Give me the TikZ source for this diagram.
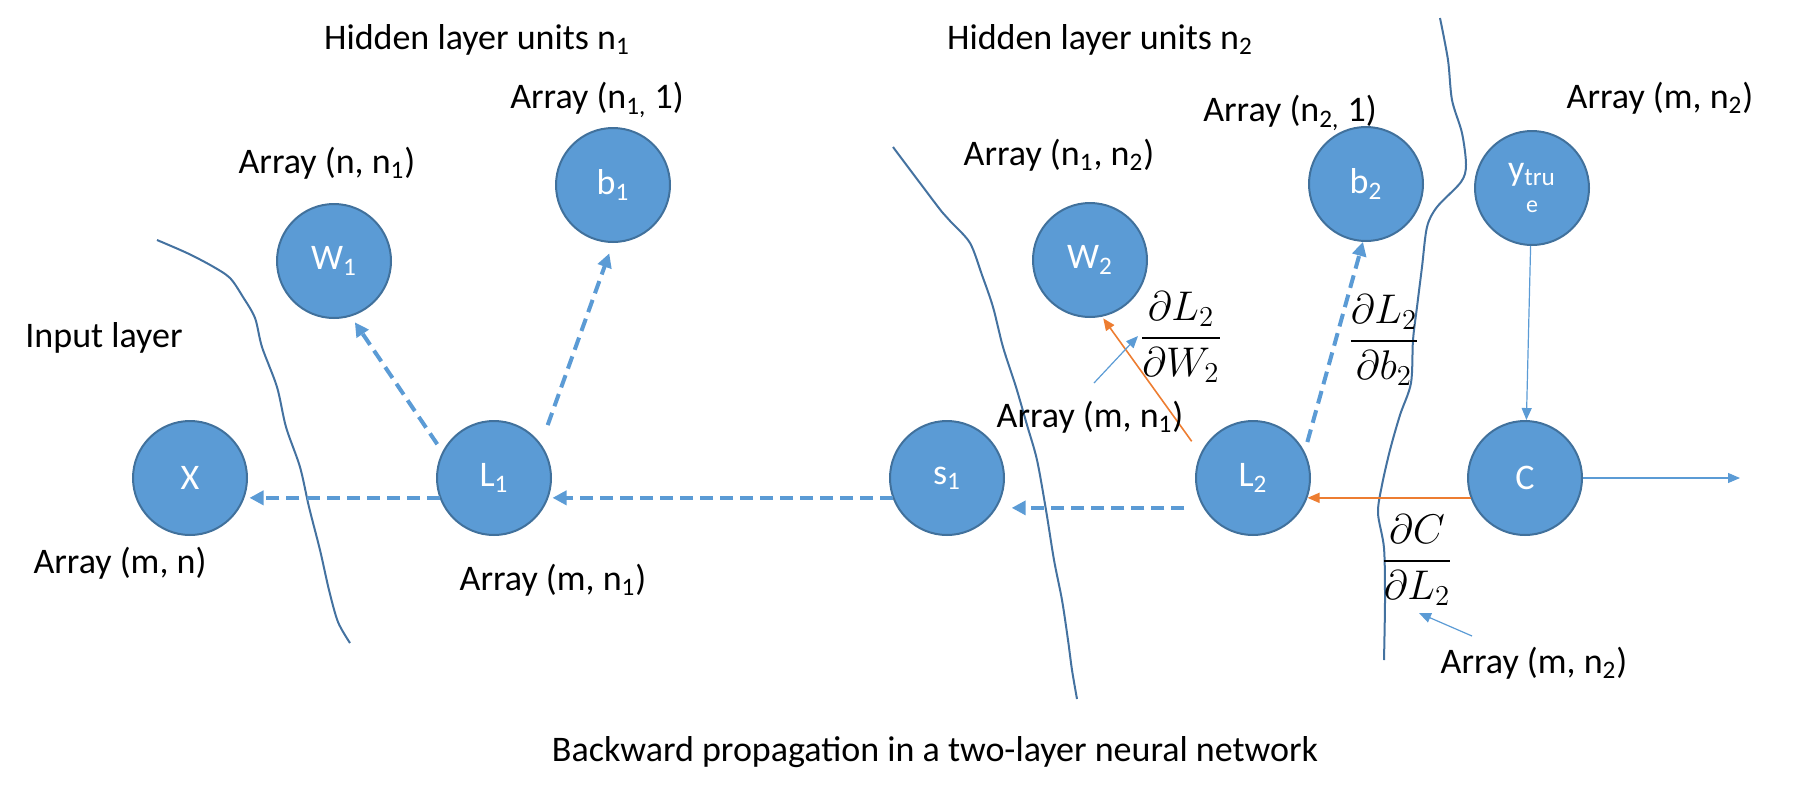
\documentclass[tikz,border=0pt]{standalone}
\usepackage{amsmath}
\usepackage{fontspec}
\setmainfont{Carlito}
\usetikzlibrary{arrows.meta}
\definecolor{unitblue}{RGB}{91,155,213}
\definecolor{unitedge}{RGB}{65,113,156}
\definecolor{gradorange}{RGB}{237,125,49}
\definecolor{cutline}{RGB}{68,114,160}
\tikzset{
  unit/.style={circle, fill=unitblue, draw=unitedge, line width=1pt,
    minimum size=57pt, inner sep=0pt, text=white,
    font=\fontsize{18}{20}\selectfont},
  lbl/.style={inner sep=0pt, font=\fontsize{18}{21}\selectfont},
  frac/.style={inner sep=0pt, font=\fontsize{20}{24}\selectfont},
  backprop/.style={draw=unitblue, line width=2pt,
    dash pattern=on 6.5pt off 3.5pt, -{Triangle[length=7pt,width=7pt]}},
  grad/.style={draw=gradorange, line width=0.8pt,
    -{Triangle[length=6pt,width=5pt]}},
  pointer/.style={draw=unitblue, line width=0.6pt,
    -{Triangle[length=6pt,width=5pt]}},
  cut/.style={draw=cutline, line width=1pt},
}

\begin{document}
\begin{tikzpicture}[x=0.5pt,y=-0.5pt]
\useasboundingbox (0,0) rectangle (1801,794);

% Units
\node[unit] (X)  at (190,478)  {X};
\node[unit] (L1) at (494,478)  {L\textsubscript{1}};
\node[unit] (W1) at (334,261)  {W\textsubscript{1}};
\node[unit] (b1) at (613,185)  {b\textsubscript{1}};
\node[unit] (s1) at (947,478)  {s\textsubscript{1}};
\node[unit] (W2) at (1090,260) {W\textsubscript{2}};
\node[unit] (L2) at (1253,478) {L\textsubscript{2}};
\node[unit] (b2) at (1366,184) {b\textsubscript{2}};
\node[unit, align=center] (yt) at (1532,188)
  {y\textsubscript{tru}\\[-4pt]{\fontsize{12}{13}\selectfont e}};
\node[unit] (C)  at (1525,478) {C};

% Layer boundaries
\draw[cut] plot[smooth, tension=0.5] coordinates {(157,240) (187,253) (212,266)
  (230,278) (243,297) (255,318) (262,347) (277,387) (286,427) (300,467)
  (309,507) (320,550) (329,590) (338,622) (350,643)};
\draw[cut] plot[smooth, tension=0.5] coordinates {(893,147) (920,183) (942,212)
  (951,222) (970,243) (982,275) (993,307) (1003,347) (1016,387) (1027,425)
  (1037,460) (1046,510) (1054,560) (1062,600) (1068,640) (1072,670) (1077,699)};
\draw[cut] plot[smooth, tension=0.5] coordinates {(1440,18) (1448,60) (1452,100)
  (1462,133) (1466,165) (1461,182) (1437,207) (1427,227) (1422,267) (1417,307)
  (1413,340) (1411,383) (1400,415) (1390,450) (1382,485) (1378,513) (1384,548)
  (1385,600) (1384,660)};

% Backward flow
\draw[backprop, shorten >=2.5pt] (L1.200) -- (X.-20);
\draw[backprop, shorten >=2pt] (s1.200) -- (L1.-20);
\draw[backprop, shorten <=9.5pt, shorten >=7.5pt] (L2.211) -- (s1.-31);
\draw[backprop, shorten <=4.5pt, shorten >=3.5pt] (L1.153) -- (W1.287);
\draw[backprop, shorten <=10pt, shorten >=5.5pt] (L1.36) -- (b1.270);
\draw[backprop, shorten <=5pt] (L2.27) -- (b2.267);
\draw[grad, shorten <=7.5pt, shorten >=1pt] (L2.155) -- (W2.282);
\draw[grad] (C.200) -- (L2.-20);
\draw[pointer] (yt) -- (C);
\coordinate (out) at (1740,478);
\draw[pointer] (C) -- (out);

% Gradients
\node[frac] (dW2) at (1181,337) {$\dfrac{\partial L_2}{\partial W_2}$};
\node[frac] (db2) at (1384,340) {$\dfrac{\partial L_2}{\partial b_2}$};
\node[frac] (dL2) at (1417,560) {$\dfrac{\partial C}{\partial L_2}$};

% Shapes
\node[lbl] (hid1) at (477,40)  {Hidden layer units n\textsubscript{1}};
\node[lbl] (hid2) at (1100,40) {Hidden layer units n\textsubscript{2}};
\node[lbl] (inp)  at (104,338) {Input layer};
\node[lbl] (aX)   at (120,563) {Array (m, n)};
\node[lbl] (aW1)  at (327,163) {Array (n, n\textsubscript{1})};
\node[lbl] (ab1)  at (597,100) {Array (n\textsubscript{1,} 1)};
\node[lbl] (aL1)  at (553,580) {Array (m, n\textsubscript{1})};
\node[lbl] (aW2)  at (1059,155) {Array (n\textsubscript{1}, n\textsubscript{2})};
\node[lbl] (ab2)  at (1290,113) {Array (n\textsubscript{2,} 1)};
\node[lbl] (ayt)  at (1660,98)  {Array (m, n\textsubscript{2})};
\node[lbl] (aS)   at (1090,417) {Array (m, n\textsubscript{1})};
\node[lbl] (aC)   at (1534,663) {Array (m, n\textsubscript{2})};
\coordinate (pW) at (1094,383);
\coordinate (pWtip) at (1138,336);
\draw[pointer] (pW) -- (pWtip);
\coordinate (pC) at (1472,636);
\coordinate (pCtip) at (1419,613);
\draw[pointer] (pC) -- (pCtip);

% Caption
\node[lbl] (title) at (935,752) {Backward propagation in a two-layer neural network};
\end{tikzpicture}
\end{document}
